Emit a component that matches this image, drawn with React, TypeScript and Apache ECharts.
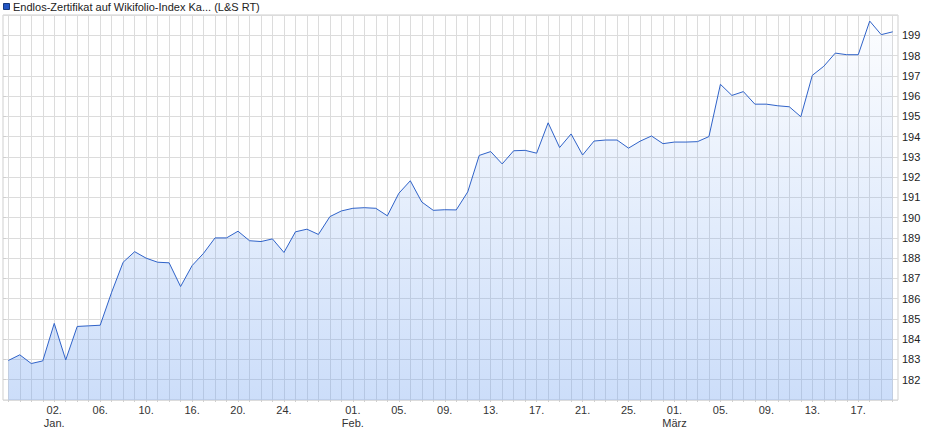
import React, { useEffect, useRef } from "react";
import * as echarts from "echarts";

const seriesName = "Endlos-Zertifikat auf Wikifolio-Index Ka... (L&S RT)";

const categories: string[] = [
  "28.12.", "29.12.", "30.12.", "31.12.",
  "02.01.", "03.01.", "04.01.", "05.01.", "06.01.", "07.01.", "08.01.", "09.01.", "10.01.", "11.01.",
  "13.01.", "14.01.", "16.01.", "17.01.", "18.01.", "19.01.", "20.01.", "21.01.", "22.01.", "23.01.",
  "24.01.", "25.01.", "27.01.", "28.01.", "29.01.", "30.01.",
  "01.02.", "02.02.", "03.02.", "04.02.", "05.02.", "06.02.", "07.02.", "08.02.", "09.02.", "10.02.",
  "11.02.", "12.02.", "13.02.", "14.02.", "15.02.", "16.02.", "17.02.", "18.02.", "19.02.", "20.02.",
  "21.02.", "22.02.", "23.02.", "24.02.", "25.02.", "26.02.", "27.02.", "28.02.",
  "01.03.", "02.03.", "03.03.", "04.03.", "05.03.", "06.03.", "07.03.", "08.03.", "09.03.", "10.03.",
  "11.03.", "12.03.", "13.03.", "14.03.", "15.03.", "16.03.", "17.03.", "18.03.", "19.03.", "20.03.",
];

const values: number[] = [
  182.95, 183.23, 182.8, 182.93, 184.78, 182.98, 184.63, 184.66, 184.69, 186.32,
  187.8, 188.32, 188.0, 187.8, 187.77, 186.6, 187.63, 188.24, 189.0, 189.0,
  189.33, 188.86, 188.82, 188.95, 188.28, 189.3, 189.43, 189.17, 190.05, 190.33,
  190.46, 190.49, 190.46, 190.09, 191.2, 191.82, 190.77, 190.36, 190.39, 190.38,
  191.27, 193.07, 193.26, 192.65, 193.3, 193.32, 193.18, 194.68, 193.46, 194.13,
  193.09, 193.78, 193.83, 193.83, 193.43, 193.77, 194.03, 193.65, 193.73, 193.73,
  193.75, 194.0, 196.58, 196.03, 196.22, 195.6, 195.6, 195.52, 195.47, 194.98,
  197.02, 197.47, 198.12, 198.04, 198.04, 199.7, 199.03, 199.17,
];

const xTickDates: string[] = [
  "02.01.", "06.01.", "10.01.", "16.01.", "20.01.", "24.01.",
  "01.02.", "05.02.", "09.02.", "13.02.", "17.02.", "21.02.", "25.02.",
  "01.03.", "05.03.", "09.03.", "13.03.", "17.03.",
];

const monthNames: Record<string, string> = { "01": "Jan.", "02": "Feb.", "03": "März" };

const yMin = 181;
const yMax = 200;

const FONT = "'Liberation Sans', Arial, sans-serif";

export default function App() {
  const ref = useRef<HTMLDivElement>(null);

  useEffect(() => {
    if (!ref.current) return;
    const chart = echarts.init(ref.current, null, { renderer: "svg" });

    const formatX = (value: string) => {
      const [day, month] = value.split(".");
      const firstInMonth = xTickDates.find((d) => d.split(".")[1] === month) === value;
      return firstInMonth ? `${day}.\n${monthNames[month]}` : `${day}.`;
    };

    chart.setOption({
      animation: false,
      backgroundColor: "#ffffff",
      textStyle: { fontFamily: FONT },
      grid: [
        { left: 3, right: 42, top: 15, bottom: 35, show: true, borderColor: "#cfcfcf", borderWidth: 1, backgroundColor: "transparent" },
        { left: 8.3, right: 47.3, top: 15, bottom: 35 },
      ],
      xAxis: [
        { gridIndex: 0, type: "value", show: false, min: 0, max: 1 },
        {
          gridIndex: 1,
          type: "category",
          boundaryGap: false,
          data: categories,
          axisLine: { show: false },
          axisTick: { show: true, interval: 0, length: 2, lineStyle: { color: "#cfcfcf" } },
          splitLine: { show: true, interval: 0, lineStyle: { color: "#dcdcdc", width: 1 } },
          axisLabel: {
            interval: (_i: number, v: string) => xTickDates.includes(v),
            formatter: formatX,
            margin: 3,
            fontSize: 11,
            lineHeight: 13,
            color: "#333",
            fontFamily: FONT,
          },
        },
      ],
      yAxis: [
        {
          gridIndex: 0,
          type: "value",
          position: "right",
          min: yMin,
          max: yMax,
          interval: 1,
          axisLine: { show: false },
          axisTick: { show: true, length: 3, lineStyle: { color: "#cfcfcf" } },
          splitLine: { show: true, lineStyle: { color: "#dcdcdc", width: 1 } },
          axisLabel: {
            showMinLabel: false,
            showMaxLabel: false,
            margin: 4,
            fontSize: 11,
            color: "#222",
            fontFamily: FONT,
          },
        },
        { gridIndex: 1, type: "value", min: yMin, max: yMax, show: false },
      ],
      series: [
        {
          name: seriesName,
          type: "line",
          xAxisIndex: 1,
          yAxisIndex: 1,
          data: values,
          symbol: "none",
          lineStyle: { color: "#2f62c8", width: 1 },
          itemStyle: { color: "#2f62c8" },
          areaStyle: {
            color: new echarts.graphic.LinearGradient(0, 15, 0, 400, [
              { offset: 0, color: "rgba(110,160,240,0.02)" },
              { offset: 1, color: "rgba(110,160,240,0.5)" },
            ], true),
          },
        },
      ],
      graphic: [
        {
          type: "rect",
          shape: { x: 3.5, y: 3.5, width: 6, height: 6 },
          style: { fill: "#2255c4", stroke: "#17397e", lineWidth: 1 },
        },
        {
          type: "text",
          x: 13,
          y: 7,
          style: {
            text: seriesName,
            fontSize: 11,
            fontFamily: FONT,
            fill: "#222",
            verticalAlign: "middle",
          },
        },
      ],
    });

    return () => chart.dispose();
  }, []);

  return (
    <div
      ref={ref}
      style={{ position: "fixed", left: 0, top: 0, width: 940, height: 435 }}
    />
  );
}
